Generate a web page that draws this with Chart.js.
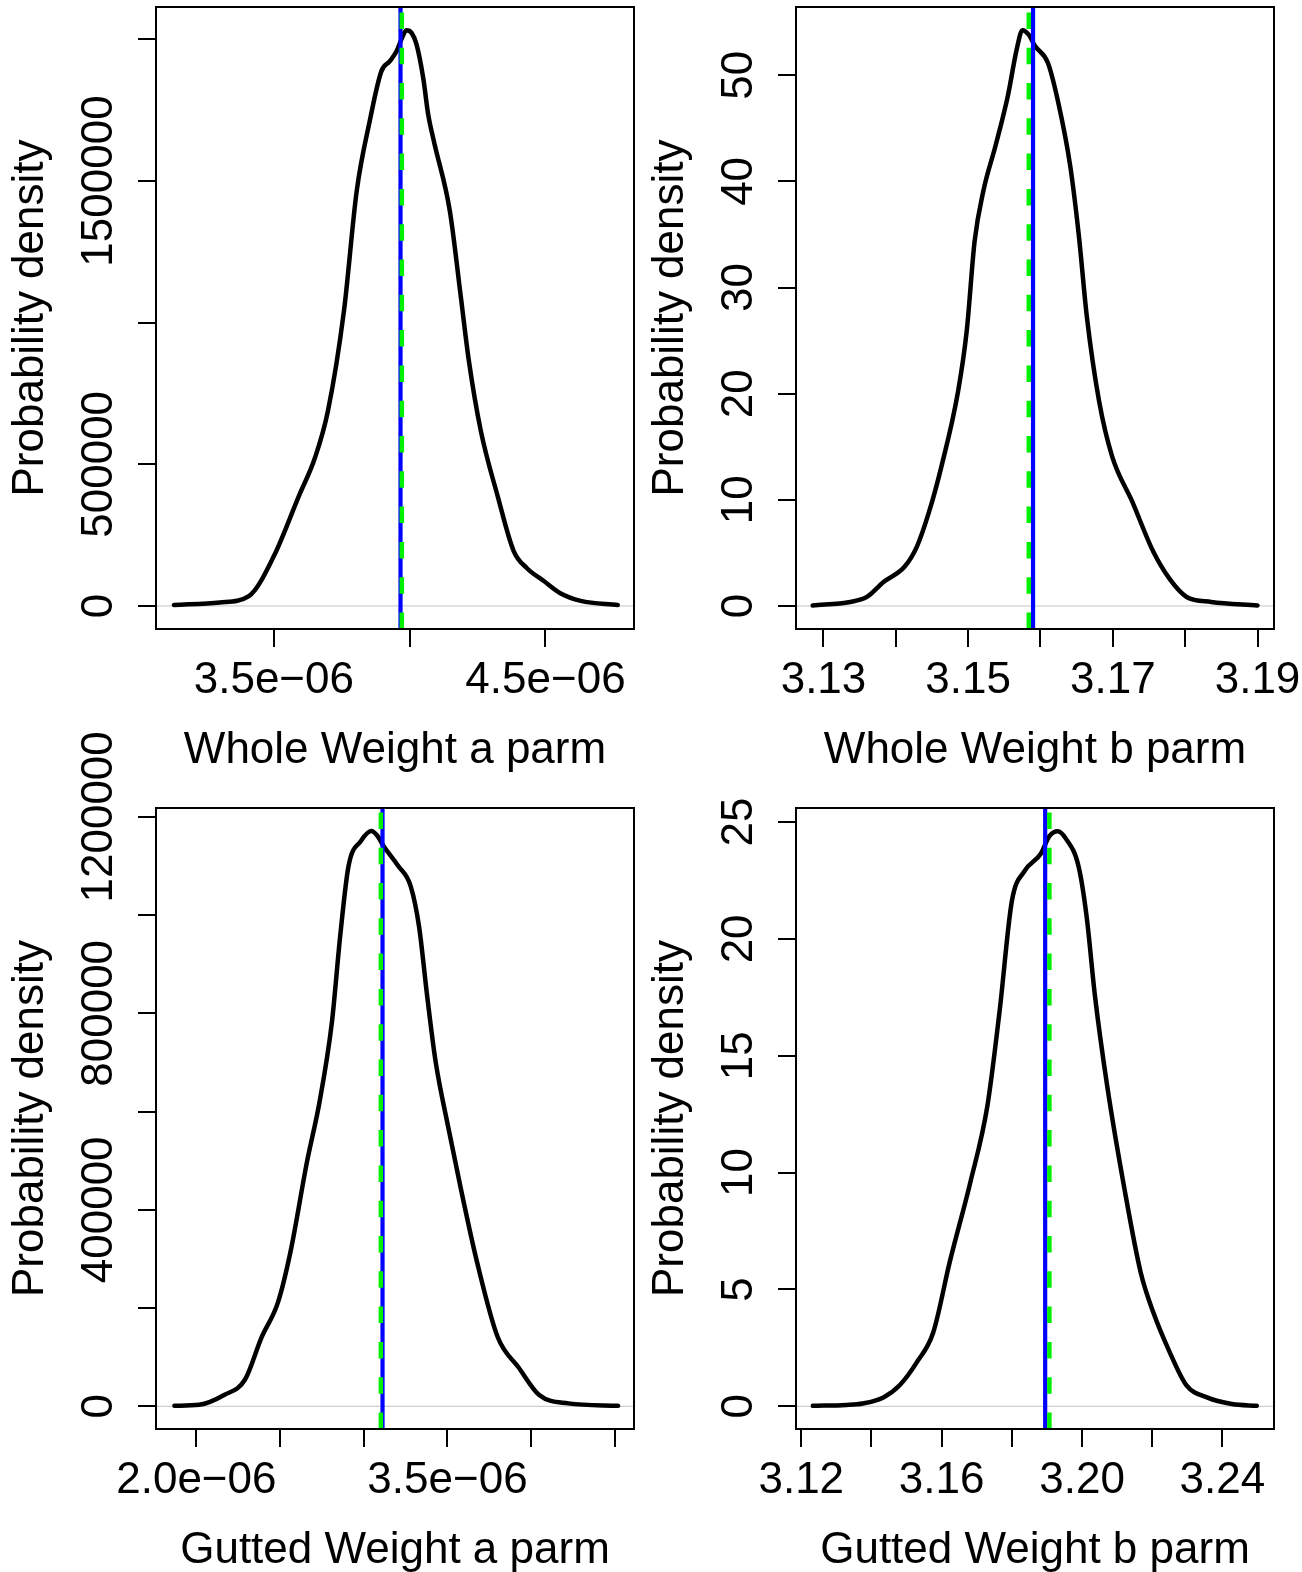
<!DOCTYPE html>
<html>
<head>
<meta charset="utf-8">
<title>Posterior densities of length-weight parameters</title>
<script src="https://cdn.jsdelivr.net/npm/chart.js@4.4.1/dist/chart.umd.min.js"></script>
<style>
  html, body { margin: 0; padding: 0; background: #fff; }
  #wrap { position: relative; width: 1302px; height: 1572px; overflow: hidden; background: #fff; }
  #wrap canvas { position: absolute; left: 0; top: 0; }
</style>
</head>
<body>
<div id="wrap">
  <canvas id="wholeA" width="1302" height="1572"></canvas>
  <canvas id="wholeB" width="1302" height="1572"></canvas>
  <canvas id="guttedA" width="1302" height="1572"></canvas>
  <canvas id="guttedB" width="1302" height="1572"></canvas>
</div>
<script>
/* ── Data ──────────────────────────────────────────────────────────── */

var MINUS = '\u2212';

/* Whole Weight a parm */
var wholeA_x = [3.132e-6, 3.301e-6, 3.408e-6, 3.500e-6, 3.592e-6, 3.651e-6, 3.699e-6,
  3.758e-6, 3.805e-6, 3.853e-6, 3.896e-6, 3.927e-6, 3.952e-6, 3.970e-6, 3.988e-6,
  4.007e-6, 4.025e-6, 4.050e-6, 4.068e-6, 4.089e-6, 4.148e-6, 4.188e-6, 4.218e-6,
  4.262e-6, 4.324e-6, 4.383e-6, 4.431e-6, 4.494e-6, 4.553e-6, 4.630e-6, 4.766e-6];
var wholeA_y = [3500, 12400, 35000, 176000, 388000, 522000, 688000,
  1041000, 1465000, 1712000, 1888000, 1923000, 1959000, 2001000, 2032000,
  2023000, 1983000, 1863000, 1736000, 1641000, 1394000, 1094000, 865000,
  618000, 388000, 194000, 134000, 88000, 46000, 18000, 3500];
var wholeA_xTicks = [3.5e-6, 4.0e-6, 4.5e-6];
var wholeA_xLabels = ['3.5e' + MINUS + '06', '', '4.5e' + MINUS + '06'];
var wholeA_yTicks = [0, 500000, 1000000, 1500000, 2000000];
var wholeA_yLabels = ['0', '500000', '', '1500000', ''];
var wholeA_xRange = [3.066e-6, 4.826e-6];
var wholeA_yRange = [-81300, 2114300];
var wholeA_refs = [3.9663e-6, 3.9711e-6]; /* blue solid, green dashed */

/* Whole Weight b parm */
var wholeB_x = [3.1285, 3.1337, 3.1360, 3.1383, 3.1412, 3.1429, 3.1446, 3.1463,
  3.1486, 3.1498, 3.1509, 3.1521, 3.1538, 3.1555, 3.1567, 3.1575, 3.1584, 3.1592,
  3.1610, 3.1624, 3.1641, 3.1653, 3.1664, 3.1681, 3.1699, 3.1727, 3.1756, 3.1779,
  3.1802, 3.1836, 3.1900];
var wholeB_y = [0.05, 0.38, 0.85, 2.26, 3.69, 5.57, 8.88, 13.13,
  20.2, 25.9, 34.4, 39.1, 43.4, 48.1, 52.4, 54.25, 53.8, 52.8,
  51.2, 47.6, 41.5, 34.9, 27.3, 19.3, 14.1, 9.8, 5.1, 2.5,
  0.85, 0.38, 0.05];
var wholeB_xTicks = [3.13, 3.14, 3.15, 3.16, 3.17, 3.18, 3.19];
var wholeB_xLabels = ['3.13', '', '3.15', '', '3.17', '', '3.19'];
var wholeB_yTicks = [0, 10, 20, 30, 40, 50];
var wholeB_yLabels = ['0', '10', '20', '30', '40', '50'];
var wholeB_xRange = [3.1262, 3.19228];
var wholeB_yRange = [-2.17, 56.43];
var wholeB_refs = [3.15897, 3.15838];

/* Gutted Weight a parm */
var guttedA_x = [1.869e-6, 2.017e-6, 2.166e-6, 2.290e-6, 2.389e-6, 2.488e-6, 2.562e-6,
  2.661e-6, 2.736e-6, 2.810e-6, 2.859e-6, 2.909e-6, 2.983e-6, 3.045e-6, 3.082e-6,
  3.119e-6, 3.206e-6, 3.280e-6, 3.330e-6, 3.379e-6, 3.429e-6, 3.504e-6, 3.578e-6,
  3.677e-6, 3.801e-6, 3.925e-6, 4.048e-6, 4.222e-6, 4.519e-6];
var guttedA_y = [1000, 3000, 23000, 54000, 140000, 212000, 314000,
  498000, 620000, 783000, 957000, 1100000, 1151000, 1171000, 1161000,
  1140000, 1100000, 1059000, 977000, 834000, 702000, 569000, 446000,
  293000, 140000, 79000, 23000, 6000, 1000];
var guttedA_xTicks = [2.0e-6, 2.5e-6, 3.0e-6, 3.5e-6, 4.0e-6, 4.5e-6];
var guttedA_xLabels = ['2.0e' + MINUS + '06', '', '', '3.5e' + MINUS + '06', '', ''];
var guttedA_yTicks = [0, 200000, 400000, 600000, 800000, 1000000, 1200000];
var guttedA_yLabels = ['0', '', '400000', '', '800000', '', '1200000'];
var guttedA_xRange = [1.759e-6, 4.614e-6];
var guttedA_yRange = [-46200, 1218000];
var guttedA_refs = [3.112e-6, 3.102e-6];

/* Gutted Weight b parm */
var guttedB_x = [3.1233, 3.1328, 3.1375, 3.1434, 3.1481, 3.1529, 3.1576, 3.1623,
  3.1682, 3.1730, 3.1765, 3.1800, 3.1836, 3.1883, 3.1907, 3.1931, 3.1954, 3.1990,
  3.2013, 3.2037, 3.2072, 3.2120, 3.2167, 3.2203, 3.2250, 3.2297, 3.2356, 3.2427,
  3.2498];
var guttedB_y = [0.02, 0.06, 0.12, 0.38, 0.91, 1.88, 3.16, 6.17,
  9.60, 12.82, 16.89, 21.61, 22.90, 23.65, 24.40, 24.61, 24.29, 23.11,
  20.97, 17.54, 13.68, 9.38, 5.74, 4.02, 2.31, 0.91, 0.38, 0.10,
  0.02];
var guttedB_xTicks = [3.12, 3.14, 3.16, 3.18, 3.20, 3.22, 3.24];
var guttedB_xLabels = ['3.12', '', '3.16', '', '3.20', '', '3.24'];
var guttedB_yTicks = [0, 5, 10, 15, 20, 25];
var guttedB_yLabels = ['0', '5', '10', '15', '20', '25'];
var guttedB_xRange = [3.1185, 3.2547];
var guttedB_yRange = [-0.971, 25.6];
var guttedB_refs = [3.1895, 3.1907];

/* ── Look ──────────────────────────────────────────────────────────── */

var PAGE_W = 1302;
var PAGE_H = 1572;
var TICK_LEN = 18;
var FONT = '44px "Liberation Sans", Arial, Helvetica, sans-serif';
var BLUE = '#0000ff';
var GREEN = '#00f000';
var ZERO_GRAY = '#c4c4c4';

/* plot boxes on the page: left, top, right, bottom */
var BOXES = {
  wholeA:  [156, 7, 634, 629],
  wholeB:  [796, 7, 1274, 629],
  guttedA: [156, 808, 634, 1429],
  guttedB: [796, 808, 1274, 1429]
};

/* R-style box, rotated y labels and axis titles */
function framePlugin(p) {
  return {
    id: 'rFrame',
    afterDraw: function (chart) {
      var ctx = chart.ctx;
      var a = chart.chartArea;
      var xs = chart.scales.x;
      var ys = chart.scales.y;
      ctx.save();
      ctx.strokeStyle = '#000';
      ctx.lineWidth = 2;
      ctx.strokeRect(a.left, a.top, a.right - a.left, a.bottom - a.top);

      ctx.fillStyle = '#000';
      ctx.font = FONT;
      ctx.textAlign = 'center';
      ctx.textBaseline = 'alphabetic';

      p.xTicks.forEach(function (v, i) {
        if (p.xLabels[i]) ctx.fillText(p.xLabels[i], xs.getPixelForValue(v), a.bottom + 64);
      });
      ctx.fillText(p.xTitle, (a.left + a.right) / 2, a.bottom + 134);

      p.yTicks.forEach(function (v, i) {
        if (!p.yLabels[i]) return;
        ctx.save();
        ctx.translate(a.left - 44, ys.getPixelForValue(v));
        ctx.rotate(-Math.PI / 2);
        ctx.fillText(p.yLabels[i], 0, 0);
        ctx.restore();
      });

      ctx.save();
      ctx.translate(a.left - 113, (a.top + a.bottom) / 2);
      ctx.rotate(-Math.PI / 2);
      ctx.fillText(p.yTitle, 0, 0);
      ctx.restore();

      ctx.restore();
    }
  };
}

function tickAxis(range, ticks, isX) {
  return {
    type: 'linear',
    min: range[0],
    max: range[1],
    afterBuildTicks: function (s) {
      s.ticks = ticks.map(function (v) { return { value: v }; });
    },
    afterFit: function (s) {
      if (isX) s.height = TICK_LEN; else s.width = TICK_LEN;
    },
    grid: {
      drawOnChartArea: false,
      drawTicks: true,
      tickLength: TICK_LEN,
      color: '#000',
      lineWidth: 2
    },
    border: { display: false },
    ticks: { display: false }
  };
}

function pairs(xs, ys) {
  return xs.map(function (x, i) { return { x: x, y: ys[i] }; });
}

function makePanel(id, p) {
  var box = BOXES[id];
  var vline = function (v) {
    return [{ x: v, y: p.yRange[0] }, { x: v, y: p.yRange[1] }];
  };

  return new Chart(document.getElementById(id), {
    type: 'scatter',
    data: {
      datasets: [
        { data: [{ x: p.xRange[0], y: 0 }, { x: p.xRange[1], y: 0 }],
          borderColor: ZERO_GRAY, borderWidth: 1, order: 4 },
        { data: pairs(p.xs, p.ys), borderColor: '#000', borderWidth: 4.5,
          cubicInterpolationMode: 'monotone', borderJoinStyle: 'round',
          borderCapStyle: 'round', order: 3 },
        { data: vline(p.refs[0]), borderColor: BLUE, borderWidth: 4.2, order: 2 },
        { data: vline(p.refs[1]), borderColor: GREEN, borderWidth: 4.5,
          borderDash: [16.5, 18.8], order: 1 }
      ]
    },
    options: {
      responsive: false,
      animation: false,
      devicePixelRatio: 1,
      events: [],
      showLine: true,
      datasets: { scatter: { showLine: true } },
      elements: { point: { radius: 0, hoverRadius: 0 } },
      layout: {
        padding: {
          left: box[0] - TICK_LEN,
          top: box[1],
          right: PAGE_W - box[2],
          bottom: PAGE_H - box[3] - TICK_LEN
        }
      },
      plugins: { legend: { display: false }, tooltip: { enabled: false } },
      scales: {
        x: tickAxis(p.xRange, p.xTicks, true),
        y: Object.assign(tickAxis(p.yRange, p.yTicks, false), { position: 'left' })
      }
    },
    plugins: [framePlugin(p)]
  });
}

makePanel('wholeA', {
  xs: wholeA_x, ys: wholeA_y, xRange: wholeA_xRange, yRange: wholeA_yRange,
  xTicks: wholeA_xTicks, xLabels: wholeA_xLabels,
  yTicks: wholeA_yTicks, yLabels: wholeA_yLabels, refs: wholeA_refs,
  xTitle: 'Whole Weight a parm', yTitle: 'Probability density'
});
makePanel('wholeB', {
  xs: wholeB_x, ys: wholeB_y, xRange: wholeB_xRange, yRange: wholeB_yRange,
  xTicks: wholeB_xTicks, xLabels: wholeB_xLabels,
  yTicks: wholeB_yTicks, yLabels: wholeB_yLabels, refs: wholeB_refs,
  xTitle: 'Whole Weight b parm', yTitle: 'Probability density'
});
makePanel('guttedA', {
  xs: guttedA_x, ys: guttedA_y, xRange: guttedA_xRange, yRange: guttedA_yRange,
  xTicks: guttedA_xTicks, xLabels: guttedA_xLabels,
  yTicks: guttedA_yTicks, yLabels: guttedA_yLabels, refs: guttedA_refs,
  xTitle: 'Gutted Weight a parm', yTitle: 'Probability density'
});
makePanel('guttedB', {
  xs: guttedB_x, ys: guttedB_y, xRange: guttedB_xRange, yRange: guttedB_yRange,
  xTicks: guttedB_xTicks, xLabels: guttedB_xLabels,
  yTicks: guttedB_yTicks, yLabels: guttedB_yLabels, refs: guttedB_refs,
  xTitle: 'Gutted Weight b parm', yTitle: 'Probability density'
});
</script>
</body>
</html>
